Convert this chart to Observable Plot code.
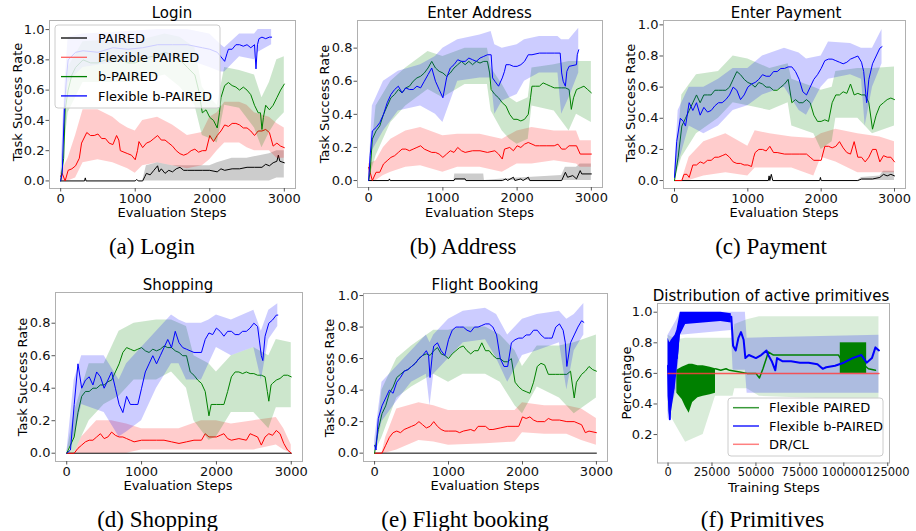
<!DOCTYPE html>
<html><head><meta charset="utf-8">
<script src="https://cdn.jsdelivr.net/npm/d3@7"></script>
<script src="https://cdn.jsdelivr.net/npm/@observablehq/plot@0.6"></script>
<style>
body{margin:0;background:#fff;}
#root{position:relative;width:916px;height:531px;overflow:hidden;background:#fff;}
#root > svg{position:absolute;}
</style></head><body><div id="root"></div>
<script>
// ---------------- DATA ----------------
const evalTicks = [0, 1000, 2000, 3000];
const rateTicks10 = [0, 0.2, 0.4, 0.6, 0.8, 1.0];
const rateTicks08 = [0, 0.2, 0.4, 0.6, 0.8];
const trainTicks = [0, 25000, 50000, 75000, 100000, 125000];
const primTicks = [0.2, 0.4, 0.6, 0.8, 1.0];

const methodNames = ["PAIRED", "Flexible PAIRED", "b-PAIRED", "Flexible b-PAIRED"];
const primNames = ["Flexible PAIRED", "Flexible b-PAIRED", "DR/CL"];
const titles = ["Login", "Enter Address", "Enter Payment", "Shopping", "Flight Booking", "Distribution of active primitives"];
const captions = ["(a) Login", "(b) Address", "(c) Payment", "(d) Shopping", "(e) Flight booking", "(f) Primitives"];

// (a) Login  — mean: [step, value], band: [step, lo, hi]
const loginPaired = [[0,0],[320,0],[330,0.02],[340,0],[1000,0],[1020,0.01],[1040,0],[1100,0],[1130,0.03],[1150,0.05],[1200,0.04],[1250,0.07],[1300,0.1],[1320,0.06],[1350,0.08],[1400,0.05],[1450,0.07],[1500,0.06],[1550,0.08],[1600,0.09],[1650,0.07],[1700,0.07],[1800,0.07],[1900,0.07],[2000,0.07],[2100,0.06],[2150,0.08],[2200,0.07],[2300,0.08],[2400,0.08],[2500,0.09],[2600,0.09],[2700,0.09],[2750,0.11],[2800,0.1],[2850,0.12],[2900,0.13],[2920,0.17],[2940,0.13],[3000,0.12]];
const loginPairedBand = [[1100,0,0],[1150,0,0.1],[1300,0,0.12],[1500,0,0.1],[2000,0,0.1],[2100,0,0.12],[2300,0,0.15],[2500,0,0.15],[2700,0,0.17],[2800,0,0.18],[2900,0.02,0.2],[3000,0.02,0.2]];
const loginFlexPaired = [[0,0.03],[20,0.05],[60,0],[100,0.07],[150,0.08],[200,0.1],[250,0.15],[280,0.25],[300,0.27],[350,0.32],[400,0.3],[450,0.3],[500,0.31],[550,0.28],[600,0.28],[650,0.25],[700,0.24],[750,0.3],[780,0.27],[800,0.2],[850,0.19],[900,0.18],[950,0.17],[1000,0.14],[1030,0.2],[1050,0.26],[1100,0.22],[1150,0.25],[1200,0.26],[1250,0.28],[1300,0.3],[1350,0.27],[1400,0.27],[1450,0.25],[1500,0.23],[1550,0.2],[1600,0.18],[1650,0.17],[1700,0.18],[1750,0.2],[1800,0.21],[1850,0.19],[1900,0.2],[1950,0.2],[2000,0.3],[2050,0.26],[2100,0.3],[2150,0.33],[2200,0.37],[2250,0.36],[2300,0.38],[2350,0.38],[2400,0.37],[2450,0.35],[2500,0.35],[2550,0.33],[2600,0.3],[2650,0.33],[2700,0.33],[2750,0.34],[2800,0.32],[2850,0.23],[2900,0.25],[2950,0.23],[3000,0.22]];
const loginFlexPairedBand = [[0,0,0.05],[100,0,0.15],[200,0.02,0.3],[300,0.12,0.47],[500,0.14,0.47],[700,0.12,0.42],[800,0.1,0.38],[900,0.08,0.35],[1000,0.05,0.33],[1100,0.1,0.4],[1300,0.12,0.42],[1500,0.1,0.37],[1700,0.08,0.3],[1900,0.1,0.32],[2000,0.14,0.42],[2100,0.2,0.45],[2200,0.25,0.52],[2400,0.25,0.52],[2500,0.22,0.5],[2600,0.2,0.45],[2800,0.2,0.42],[2900,0.15,0.38],[3000,0.15,0.35]];
const loginBPaired = [[0,0],[40,0.15],[60,0.47],[100,0.6],[150,0.7],[200,0.75],[300,0.8],[400,0.78],[500,0.78],[600,0.8],[700,0.8],[800,0.8],[900,0.78],[1000,0.78],[1100,0.8],[1200,0.82],[1300,0.83],[1400,0.85],[1500,0.83],[1600,0.8],[1700,0.75],[1800,0.7],[1850,0.6],[1900,0.45],[1950,0.47],[2000,0.42],[2050,0.4],[2100,0.35],[2130,0.45],[2150,0.55],[2200,0.63],[2250,0.65],[2300,0.63],[2350,0.62],[2400,0.6],[2450,0.62],[2500,0.6],[2550,0.57],[2600,0.5],[2650,0.45],[2680,0.45],[2700,0.34],[2720,0.42],[2750,0.5],[2800,0.47],[2850,0.5],[2900,0.55],[2950,0.6],[3000,0.64]];
const loginBPairedBand = [[0,0,0],[100,0.45,0.75],[300,0.65,0.92],[600,0.65,0.93],[1000,0.65,0.92],[1400,0.7,0.97],[1600,0.62,0.95],[1800,0.5,0.88],[1900,0.3,0.62],[2000,0.28,0.55],[2100,0.25,0.5],[2200,0.5,0.75],[2400,0.48,0.73],[2600,0.35,0.7],[2700,0.22,0.55],[2800,0.32,0.65],[2900,0.4,0.8],[3000,0.45,0.82]];
const loginFlexBPaired = [[0,0],[20,0.05],[50,0.48],[80,0.7],[100,0.8],[200,0.85],[300,0.86],[500,0.85],[700,0.88],[900,0.87],[1100,0.88],[1300,0.9],[1500,0.9],[1700,0.9],[1900,0.88],[2000,0.87],[2100,0.85],[2150,0.82],[2200,0.79],[2230,0.84],[2250,0.87],[2300,0.87],[2350,0.9],[2400,0.9],[2450,0.89],[2500,0.9],[2550,0.88],[2600,0.9],[2620,0.74],[2640,0.9],[2660,0.94],[2700,0.95],[2750,0.94],[2800,0.95],[2830,0.95]];
const loginFlexBPairedBand = [[0,0,0],[50,0.35,0.6],[100,0.65,0.95],[300,0.75,0.97],[700,0.78,0.98],[1300,0.8,1.0],[1700,0.8,1.0],[2000,0.75,0.97],[2150,0.72,0.9],[2200,0.72,0.88],[2400,0.82,0.97],[2600,0.8,0.97],[2650,0.85,1.0],[2830,0.9,1.0]];

// (b) Enter Address
const addrPaired = [[0,0],[270,0],[280,0.01],[290,0],[1150,0],[1160,0.01],[1300,0.01],[1310,0],[1800,0],[1850,0.01],[1870,0],[1950,0.02],[1970,0],[2050,0.01],[2080,0],[2150,0.02],[2170,0],[2600,0],[2650,0.05],[2680,0.02],[2750,0.03],[2800,0.01],[2850,0.06],[2870,0.04],[3000,0.04]];
const addrPairedBand = [[1150,0,0],[1160,0,0.04],[1550,0,0.04],[1560,0,0],[1800,0,0.01],[2200,0,0.02],[2600,0,0.03],[2650,0,0.08],[2800,0,0.08],[2850,0,0.1],[3000,0,0.1]];
const addrFlexPaired = [[0,0.08],[20,0.05],[50,0],[100,0.05],[150,0.05],[200,0.1],[250,0.12],[300,0.14],[350,0.15],[400,0.17],[450,0.19],[500,0.19],[550,0.18],[600,0.19],[650,0.2],[700,0.21],[750,0.19],[800,0.18],[850,0.17],[900,0.17],[950,0.16],[1000,0.14],[1050,0.16],[1100,0.18],[1150,0.17],[1200,0.2],[1250,0.18],[1300,0.17],[1400,0.18],[1500,0.18],[1600,0.17],[1700,0.18],[1750,0.16],[1800,0.13],[1830,0.19],[1900,0.2],[1950,0.18],[2000,0.21],[2050,0.2],[2100,0.22],[2150,0.23],[2200,0.22],[2250,0.21],[2300,0.21],[2400,0.21],[2500,0.21],[2550,0.22],[2600,0.19],[2650,0.19],[2700,0.21],[2800,0.21],[2850,0.16],[3000,0.16]];
const addrFlexPairedBand = [[0,0,0.1],[100,0,0.12],[200,0.03,0.2],[300,0.05,0.25],[500,0.08,0.3],[700,0.09,0.32],[1000,0.05,0.27],[1200,0.08,0.28],[1500,0.08,0.28],[1800,0.05,0.25],[2000,0.1,0.3],[2200,0.1,0.32],[2500,0.12,0.3],[2800,0.1,0.3],[2850,0.08,0.24],[3000,0.08,0.24]];
const addrBPaired = [[0,0],[20,0.05],[50,0.25],[100,0.3],[150,0.33],[200,0.4],[250,0.45],[300,0.5],[350,0.52],[400,0.55],[450,0.53],[500,0.56],[550,0.57],[600,0.6],[650,0.62],[700,0.63],[750,0.65],[800,0.68],[850,0.72],[900,0.68],[950,0.66],[1000,0.65],[1050,0.63],[1100,0.65],[1150,0.68],[1200,0.7],[1250,0.72],[1300,0.7],[1350,0.72],[1400,0.7],[1450,0.72],[1500,0.71],[1550,0.72],[1600,0.72],[1630,0.65],[1650,0.55],[1700,0.52],[1750,0.5],[1800,0.47],[1850,0.45],[1900,0.4],[1950,0.37],[2000,0.37],[2050,0.36],[2100,0.37],[2150,0.4],[2180,0.5],[2200,0.57],[2250,0.57],[2300,0.57],[2350,0.59],[2400,0.58],[2450,0.57],[2500,0.56],[2550,0.56],[2600,0.56],[2650,0.56],[2700,0.55],[2730,0.43],[2760,0.5],[2800,0.55],[2850,0.56],[2900,0.57],[2950,0.55],[3000,0.53]];
const addrBPairedBand = [[0,0,0],[100,0.15,0.45],[300,0.35,0.6],[500,0.45,0.68],[800,0.55,0.78],[1000,0.5,0.75],[1300,0.58,0.8],[1600,0.58,0.8],[1650,0.42,0.68],[1800,0.3,0.58],[1900,0.25,0.5],[2000,0.22,0.47],[2150,0.25,0.5],[2200,0.45,0.68],[2500,0.42,0.7],[2700,0.3,0.72],[2800,0.4,0.72],[3000,0.35,0.72]];
const addrFlexBPaired = [[0,0],[20,0.15],[50,0.3],[100,0.32],[150,0.35],[200,0.4],[250,0.47],[300,0.52],[350,0.55],[400,0.57],[450,0.53],[500,0.56],[550,0.55],[600,0.55],[650,0.57],[700,0.56],[750,0.6],[800,0.64],[850,0.68],[900,0.6],[950,0.55],[1000,0.5],[1050,0.62],[1100,0.68],[1150,0.7],[1200,0.73],[1250,0.72],[1300,0.72],[1350,0.74],[1400,0.73],[1450,0.72],[1500,0.74],[1550,0.75],[1600,0.76],[1650,0.76],[1670,0.62],[1700,0.6],[1750,0.57],[1800,0.62],[1830,0.66],[1850,0.7],[1900,0.7],[1950,0.69],[2000,0.69],[2050,0.7],[2100,0.72],[2150,0.76],[2200,0.76],[2300,0.77],[2400,0.77],[2500,0.77],[2580,0.77],[2600,0.65],[2620,0.6],[2650,0.57],[2670,0.66],[2700,0.69],[2800,0.7],[2810,0.76],[2830,0.79]];
const addrFlexBPairedBand = [[0,0,0],[50,0.18,0.45],[200,0.3,0.6],[400,0.42,0.66],[700,0.45,0.7],[900,0.4,0.75],[1000,0.35,0.8],[1200,0.6,0.85],[1500,0.62,0.88],[1650,0.62,0.9],[1700,0.4,0.82],[1800,0.48,0.8],[2000,0.52,0.82],[2100,0.6,0.85],[2300,0.65,0.87],[2550,0.65,0.87],[2600,0.4,0.85],[2700,0.5,0.85],[2830,0.65,0.92]];

// (c) Enter Payment
const payPaired = [[0,0],[1280,0],[1290,0.03],[1300,0],[1320,0.04],[1340,0],[1980,0],[1990,0.02],[2000,0],[2500,0],[2550,0.01],[2700,0.01],[2800,0.02],[2850,0.04],[2900,0.03],[2950,0.04],[3000,0.03]];
const payPairedBand = [[2500,0,0],[2550,0,0.02],[2800,0,0.03],[2850,0,0.06],[3000,0,0.06]];
const payFlexPaired = [[0,0],[100,0],[130,0.04],[170,0.04],[200,0.02],[250,0.1],[300,0.1],[350,0.12],[400,0.11],[450,0.13],[500,0.13],[550,0.15],[600,0.15],[650,0.16],[700,0.17],[750,0.15],[800,0.12],[850,0.11],[900,0.11],[950,0.1],[1000,0.1],[1050,0.09],[1080,0.15],[1100,0.18],[1150,0.2],[1200,0.2],[1250,0.19],[1300,0.22],[1350,0.18],[1400,0.18],[1500,0.17],[1600,0.17],[1700,0.17],[1800,0.17],[1850,0.15],[1900,0.13],[2000,0.13],[2050,0.22],[2100,0.22],[2150,0.21],[2200,0.22],[2250,0.25],[2300,0.21],[2350,0.18],[2400,0.17],[2450,0.25],[2500,0.15],[2550,0.15],[2600,0.12],[2650,0.15],[2700,0.2],[2750,0.2],[2800,0.12],[2850,0.16],[2900,0.15],[2950,0.15],[3000,0.12]];
const payFlexPairedBand = [[100,0,0],[200,0,0.15],[400,0.03,0.25],[700,0.05,0.3],[1000,0.03,0.22],[1100,0.08,0.32],[1300,0.08,0.3],[1600,0.08,0.28],[1900,0.03,0.27],[2000,0.15,0.3],[2200,0.12,0.33],[2500,0.05,0.3],[2800,0.05,0.28],[3000,0.05,0.25]];
const payBPaired = [[0,0],[50,0.15],[100,0.35],[150,0.4],[200,0.45],[250,0.5],[300,0.55],[350,0.5],[400,0.55],[450,0.55],[500,0.55],[550,0.58],[600,0.58],[650,0.58],[700,0.58],[750,0.6],[800,0.65],[850,0.7],[900,0.68],[950,0.65],[1000,0.63],[1050,0.62],[1100,0.6],[1150,0.63],[1200,0.62],[1250,0.6],[1300,0.6],[1350,0.58],[1400,0.58],[1450,0.6],[1500,0.62],[1550,0.65],[1600,0.5],[1650,0.52],[1700,0.5],[1750,0.5],[1800,0.52],[1850,0.5],[1900,0.42],[1950,0.38],[2000,0.38],[2050,0.39],[2100,0.38],[2150,0.5],[2200,0.55],[2250,0.55],[2300,0.57],[2350,0.56],[2400,0.62],[2450,0.55],[2500,0.56],[2550,0.55],[2600,0.55],[2650,0.5],[2700,0.33],[2750,0.42],[2800,0.48],[2850,0.5],[2900,0.52],[2950,0.53],[3000,0.52]];
const payBPairedBand = [[0,0,0],[100,0.15,0.55],[300,0.3,0.68],[600,0.4,0.7],[800,0.5,0.8],[1000,0.48,0.78],[1300,0.45,0.72],[1550,0.5,0.75],[1600,0.35,0.65],[1900,0.3,0.6],[2000,0.2,0.58],[2150,0.25,0.6],[2200,0.4,0.7],[2500,0.4,0.72],[2700,0.3,0.72],[3000,0.35,0.73]];
const payFlexBPaired = [[0,0.02],[30,0.25],[80,0.4],[120,0.38],[150,0.35],[200,0.5],[250,0.45],[300,0.5],[350,0.42],[400,0.47],[450,0.44],[500,0.45],[550,0.48],[600,0.5],[650,0.5],[700,0.52],[750,0.55],[800,0.6],[850,0.58],[900,0.52],[950,0.55],[1000,0.6],[1050,0.62],[1100,0.63],[1150,0.65],[1200,0.68],[1250,0.67],[1300,0.67],[1350,0.7],[1400,0.7],[1450,0.72],[1500,0.72],[1550,0.73],[1600,0.73],[1650,0.7],[1700,0.65],[1750,0.57],[1800,0.55],[1850,0.6],[1900,0.65],[1950,0.68],[2000,0.72],[2050,0.77],[2100,0.78],[2150,0.78],[2200,0.77],[2250,0.76],[2300,0.75],[2350,0.76],[2400,0.78],[2450,0.79],[2500,0.8],[2550,0.76],[2580,0.7],[2620,0.5],[2650,0.65],[2700,0.75],[2750,0.8],[2800,0.85],[2830,0.86]];
const payFlexBPairedBand = [[0,0,0.05],[50,0.1,0.45],[200,0.35,0.6],[400,0.3,0.6],[600,0.35,0.65],[800,0.45,0.72],[1000,0.48,0.72],[1200,0.55,0.8],[1500,0.6,0.85],[1700,0.45,0.82],[1800,0.42,0.78],[2000,0.6,0.8],[2100,0.65,0.89],[2400,0.68,0.88],[2550,0.65,0.85],[2600,0.35,0.85],[2700,0.6,0.85],[2830,0.75,0.97]];

// (d) Shopping
const shopPaired = [[0,0],[3000,0]];
const shopFlexPaired = [[0,0],[100,0],[150,0.03],[200,0.05],[250,0.07],[300,0.08],[350,0.08],[400,0.1],[450,0.12],[500,0.09],[550,0.1],[600,0.13],[650,0.11],[700,0.1],[750,0.1],[800,0.09],[850,0.08],[900,0.07],[1000,0.08],[1100,0.08],[1200,0.08],[1300,0.08],[1400,0.07],[1500,0.06],[1600,0.07],[1700,0.08],[1800,0.08],[1850,0.12],[1900,0.1],[2000,0.1],[2050,0.11],[2100,0.12],[2150,0.09],[2200,0.08],[2300,0.09],[2400,0.08],[2450,0.12],[2500,0.11],[2550,0.1],[2600,0.05],[2650,0.1],[2700,0.12],[2750,0.11],[2800,0.14],[2850,0.12],[2900,0.06],[2950,0.02],[3000,0]];
const shopFlexPairedBand = [[100,0,0],[200,0,0.1],[400,0,0.2],[600,0,0.2],[800,0,0.18],[1000,0.02,0.15],[1500,0.02,0.15],[1800,0.02,0.2],[2000,0.02,0.2],[2200,0.02,0.18],[2500,0.02,0.2],[2800,0.05,0.22],[2900,0.02,0.15],[3000,0,0.05]];
const shopBPaired = [[0,0],[100,0.1],[150,0.25],[200,0.35],[250,0.38],[300,0.38],[350,0.4],[400,0.4],[450,0.42],[500,0.42],[550,0.44],[600,0.45],[650,0.5],[700,0.55],[750,0.62],[800,0.65],[850,0.64],[900,0.63],[950,0.64],[1000,0.65],[1050,0.63],[1100,0.62],[1150,0.64],[1200,0.63],[1250,0.64],[1300,0.66],[1350,0.65],[1400,0.65],[1450,0.63],[1500,0.62],[1550,0.6],[1600,0.6],[1650,0.5],[1700,0.48],[1750,0.45],[1800,0.43],[1850,0.38],[1900,0.23],[1930,0.3],[2000,0.3],[2050,0.3],[2100,0.3],[2150,0.38],[2200,0.47],[2250,0.5],[2300,0.5],[2350,0.49],[2400,0.5],[2450,0.49],[2500,0.49],[2550,0.48],[2600,0.48],[2650,0.47],[2680,0.38],[2700,0.32],[2730,0.42],[2750,0.43],[2800,0.45],[2850,0.46],[2900,0.48],[2950,0.48],[3000,0.47]];
const shopBPairedBand = [[0,0,0],[100,0,0.25],[300,0.2,0.55],[500,0.3,0.55],[700,0.35,0.75],[900,0.45,0.8],[1200,0.45,0.82],[1400,0.5,0.82],[1600,0.4,0.78],[1700,0.2,0.6],[1900,0.08,0.55],[2000,0.1,0.5],[2200,0.25,0.6],[2500,0.25,0.65],[2700,0.15,0.6],[2800,0.28,0.7],[3000,0.28,0.68]];
const shopFlexBPaired = [[0,0],[50,0.02],[100,0.3],[150,0.55],[200,0.4],[250,0.45],[300,0.47],[350,0.42],[400,0.5],[450,0.47],[500,0.4],[550,0.45],[600,0.5],[650,0.4],[700,0.3],[750,0.25],[800,0.35],[850,0.3],[900,0.3],[950,0.3],[1000,0.4],[1050,0.5],[1100,0.55],[1150,0.6],[1200,0.55],[1250,0.6],[1300,0.65],[1350,0.7],[1400,0.65],[1450,0.75],[1500,0.68],[1550,0.65],[1600,0.64],[1700,0.62],[1800,0.62],[1850,0.7],[1900,0.74],[1950,0.73],[2000,0.77],[2050,0.75],[2100,0.72],[2150,0.75],[2200,0.75],[2250,0.73],[2300,0.73],[2350,0.75],[2400,0.75],[2450,0.77],[2500,0.8],[2550,0.78],[2600,0.6],[2620,0.57],[2650,0.72],[2700,0.8],[2750,0.82],[2800,0.85],[2820,0.85]];
const shopFlexBPairedBand = [[0,0,0],[100,0.1,0.45],[200,0.3,0.6],[500,0.25,0.6],[700,0.1,0.45],[800,0.13,0.55],[1000,0.2,0.65],[1200,0.4,0.75],[1400,0.55,0.85],[1500,0.55,0.82],[1600,0.45,0.8],[1800,0.45,0.8],[1900,0.55,0.82],[2000,0.65,0.85],[2200,0.6,0.82],[2500,0.65,0.88],[2600,0.45,0.75],[2700,0.7,0.88],[2820,0.78,0.92]];

// (e) Flight Booking
const flightPaired = [[0,0],[3000,0]];
const flightFlexPaired = [[0,0],[100,0],[150,0.05],[200,0.1],[250,0.13],[300,0.14],[350,0.13],[400,0.15],[450,0.16],[500,0.17],[550,0.18],[600,0.2],[650,0.18],[700,0.16],[750,0.17],[800,0.2],[850,0.17],[900,0.15],[950,0.14],[1000,0.14],[1100,0.14],[1150,0.13],[1200,0.14],[1300,0.15],[1350,0.14],[1400,0.17],[1500,0.17],[1550,0.15],[1600,0.15],[1700,0.16],[1800,0.17],[1900,0.17],[1950,0.17],[2000,0.23],[2050,0.22],[2100,0.23],[2150,0.21],[2200,0.2],[2300,0.2],[2350,0.22],[2400,0.21],[2500,0.21],[2600,0.2],[2700,0.2],[2750,0.19],[2800,0.18],[2850,0.13],[2900,0.14],[3000,0.13]];
const flightFlexPairedBand = [[100,0,0],[150,0,0.1],[300,0.02,0.28],[600,0.08,0.32],[800,0.07,0.3],[1000,0.05,0.27],[1500,0.06,0.27],[1900,0.07,0.27],[2000,0.13,0.32],[2300,0.12,0.3],[2600,0.12,0.3],[2800,0.08,0.28],[3000,0.05,0.22]];
const flightBPaired = [[0,0],[50,0.15],[100,0.25],[150,0.3],[200,0.38],[250,0.42],[300,0.48],[350,0.5],[400,0.52],[450,0.53],[500,0.55],[550,0.57],[600,0.6],[650,0.62],[700,0.63],[750,0.62],[800,0.65],[850,0.67],[900,0.63],[950,0.62],[1000,0.6],[1050,0.63],[1100,0.65],[1150,0.67],[1200,0.68],[1250,0.65],[1300,0.63],[1350,0.65],[1400,0.65],[1450,0.7],[1500,0.65],[1550,0.65],[1600,0.62],[1650,0.6],[1700,0.6],[1750,0.58],[1800,0.58],[1850,0.6],[1900,0.45],[1950,0.42],[2000,0.4],[2050,0.39],[2100,0.38],[2150,0.45],[2200,0.55],[2250,0.57],[2300,0.56],[2350,0.5],[2400,0.5],[2450,0.5],[2500,0.5],[2550,0.5],[2600,0.5],[2650,0.52],[2700,0.35],[2730,0.45],[2800,0.5],[2850,0.52],[2900,0.55],[2950,0.53],[3000,0.52]];
const flightBPairedBand = [[0,0,0],[100,0.1,0.4],[300,0.35,0.6],[500,0.42,0.68],[800,0.5,0.78],[1000,0.45,0.78],[1200,0.5,0.8],[1500,0.5,0.8],[1700,0.45,0.75],[1900,0.3,0.65],[2000,0.25,0.55],[2200,0.42,0.68],[2500,0.35,0.68],[2700,0.25,0.7],[3000,0.35,0.75]];
const flightFlexBPaired = [[0,0.05],[20,0.02],[50,0.22],[100,0.3],[150,0.35],[200,0.4],[250,0.38],[300,0.45],[350,0.48],[400,0.52],[450,0.53],[500,0.55],[550,0.57],[600,0.6],[650,0.62],[700,0.65],[730,0.62],[750,0.48],[780,0.62],[800,0.68],[850,0.7],[900,0.65],[950,0.62],[1000,0.72],[1050,0.78],[1100,0.8],[1150,0.8],[1200,0.8],[1250,0.78],[1300,0.77],[1350,0.8],[1400,0.8],[1450,0.81],[1500,0.82],[1550,0.82],[1600,0.8],[1650,0.75],[1700,0.6],[1750,0.55],[1800,0.55],[1850,0.7],[1900,0.72],[1950,0.73],[2000,0.73],[2050,0.75],[2100,0.75],[2150,0.78],[2200,0.78],[2250,0.75],[2300,0.73],[2350,0.73],[2400,0.73],[2450,0.8],[2500,0.82],[2550,0.78],[2580,0.7],[2600,0.55],[2650,0.7],[2700,0.75],[2750,0.8],[2800,0.84],[2830,0.83]];
const flightFlexBPairedBand = [[0,0,0.08],[100,0.2,0.45],[300,0.33,0.55],[500,0.45,0.65],[700,0.5,0.75],[750,0.3,0.7],[800,0.5,0.75],[1000,0.6,0.85],[1200,0.7,0.9],[1500,0.72,0.92],[1650,0.6,0.88],[1800,0.45,0.75],[2000,0.62,0.85],[2200,0.65,0.88],[2500,0.7,0.9],[2600,0.4,0.85],[2700,0.65,0.88],[2830,0.75,0.95]];

// (f) Primitives
const primFlexPaired = [[27000,0.63],[30000,0.62],[33000,0.63],[35000,0.62],[40000,0.61],[45000,0.6],[50000,0.6],[52000,0.57],[54000,0.63],[56000,0.7],[57000,0.74],[60000,0.72],[65000,0.72],[70000,0.72],[80000,0.72],[90000,0.72],[97000,0.72],[98000,0.7],[112000,0.65],[114000,0.63],[118000,0.62]];
const primFlexPairedNoise = [[5000,0.47,0.62],[8000,0.43,0.64],[10000,0.38,0.65],[12000,0.34,0.66],[14000,0.41,0.66],[17000,0.44,0.65],[20000,0.45,0.65],[24000,0.46,0.64],[27000,0.47,0.63]];
const primFlexPairedBlock = [[98000,0.6,0.8],[113000,0.6,0.8]];
const primFlexPairedBand = [[0,0.35,0.85],[5000,0.25,0.82],[10000,0.15,0.83],[20000,0.2,0.83],[27000,0.45,0.83],[37000,0.45,0.83],[38000,0.5,0.92],[45000,0.5,0.95],[52000,0.45,0.97],[100000,0.43,0.97],[120000,0.43,0.97]];
const primFlexBPaired = [[0,0.65],[1000,0.3],[2000,0.75],[3000,0.5],[4000,0.8],[5000,0.7],[6000,0.85],[7500,0.95],[9000,0.97],[36000,0.97],[37000,0.78],[38500,0.75],[40000,0.83],[41500,0.87],[43000,0.82],[44000,0.7],[46000,0.72],[50000,0.7],[53000,0.72],[56000,0.75],[57000,0.72],[59000,0.68],[61000,0.62],[62000,0.7],[65000,0.68],[70000,0.68],[75000,0.67],[80000,0.67],[85000,0.66],[88000,0.63],[90000,0.64],[95000,0.65],[100000,0.67],[105000,0.7],[110000,0.72],[113000,0.67],[116000,0.7],[118000,0.77],[120000,0.75]];
const primFlexBPairedNoise = [[0,0.45,0.83],[1000,0.3,0.8],[2000,0.35,0.82],[4000,0.5,0.85],[5000,0.6,0.88],[7000,0.85,1.0],[10000,0.92,1.0],[20000,0.93,1.0],[30000,0.94,1.0],[36000,0.93,0.99]];
const primFlexBPairedBand = [[0,0.3,0.85],[5000,0.5,0.95],[7000,0.85,1.0],[36000,0.88,1.0],[37000,0.62,1.0],[44000,0.62,1.0],[45000,0.47,0.83],[120000,0.47,0.85]];
const primDRCL = [[0,0.6],[120000,0.6]];

// ---------------- DRAWING ----------------
const COL = {black:"#000000", red:"#ff0000", green:"#008000", blue:"#0000ff"};
const root = document.getElementById("root");

function seriesMarks(mean, band, color, width=1) {
  const m = [];
  if (band) m.push(Plot.areaY(band, {x: d => d[0], y1: d => d[1], y2: d => d[2], fill: color, fillOpacity: 0.2}));
  m.push(Plot.lineY(mean, {x: d => d[0], y: d => d[1], stroke: color, strokeWidth: width}));
  return m;
}

function axes(xTicks, yTicks, yFmt, xFont=13, xPad=2) {
  return [
    Plot.frame({stroke: "#b0b0b0", strokeWidth: 1}),
    Plot.axisX({ticks: xTicks, tickFormat: d => String(d), tickSize: 3.5, tickPadding: xPad, fontSize: xFont, label: null, stroke: "#555", fill: "#111"}),
    Plot.axisY({ticks: yTicks, tickFormat: yFmt, tickSize: 3.5, tickPadding: 1.5, fontSize: 13, label: null, stroke: "#555", fill: "#111"})
  ];
}

function place(svg, left, top) {
  svg.style.left = left + "px";
  svg.style.top = top + "px";
  svg.style.position = "absolute";
  root.appendChild(svg);
}

const f1 = d3.format(".1f");
function evalPanel(g, yDomain, yTicks, series) {
  const marks = [];
  for (const s of series) marks.push(...seriesMarks(s[0], s[1], s[2]));
  marks.push(...axes(evalTicks, yTicks, f1));
  const svg = Plot.plot({
    width: g.w, height: g.h, marginLeft: g.ml, marginRight: g.mr, marginTop: g.mt, marginBottom: g.mb,
    style: {background: "transparent", overflow: "visible", fontFamily: "DejaVu Sans", fontSize: "13px"},
    x: {domain: [-150, 3150]}, y: {domain: yDomain},
    marks
  });
  place(svg, g.left, g.top);
}

evalPanel({left:0, top:0, w:305, h:230, ml:49, mr:10, mt:20, mb:42}, [-0.05, 1.06], rateTicks10, [
  [loginPaired, loginPairedBand, COL.black], [loginFlexPaired, loginFlexPairedBand, COL.red],
  [loginBPaired, loginBPairedBand, COL.green], [loginFlexBPaired, loginFlexBPairedBand, COL.blue]]);
evalPanel({left:305, top:0, w:305, h:230, ml:52, mr:8, mt:20, mb:43}, [-0.042, 0.967], rateTicks08, [
  [addrPaired, addrPairedBand, COL.black], [addrFlexPaired, addrFlexPairedBand, COL.red],
  [addrBPaired, addrBPairedBand, COL.green], [addrFlexBPaired, addrFlexBPairedBand, COL.blue]]);
evalPanel({left:610, top:0, w:306, h:230, ml:53, mr:11, mt:20, mb:42}, [-0.051, 1.028], rateTicks10, [
  [payPaired, payPairedBand, COL.black], [payFlexPaired, payFlexPairedBand, COL.red],
  [payBPaired, payBPairedBand, COL.green], [payFlexBPaired, payFlexBPairedBand, COL.blue]]);
evalPanel({left:0, top:270, w:310, h:230, ml:55, mr:8, mt:22, mb:39}, [-0.051, 0.989], rateTicks08, [
  [shopPaired, null, COL.black], [shopFlexPaired, shopFlexPairedBand, COL.red],
  [shopBPaired, shopBPairedBand, COL.green], [shopFlexBPaired, shopFlexBPairedBand, COL.blue]]);
evalPanel({left:305, top:270, w:310, h:230, ml:58, mr:8, mt:23, mb:39}, [-0.053, 1.013], rateTicks10, [
  [flightPaired, null, COL.black], [flightFlexPaired, flightFlexPairedBand, COL.red],
  [flightBPaired, flightBPairedBand, COL.green], [flightFlexBPaired, flightFlexBPairedBand, COL.blue]]);

// (f)
{
  const area = (data, color, op) => Plot.areaY(data, {x: d => d[0], y1: d => d[1], y2: d => d[2], fill: color, fillOpacity: op});
  const line = (data, color, w, op=1) => Plot.lineY(data, {x: d => d[0], y: d => d[1], stroke: color, strokeWidth: w, strokeOpacity: op});
  const svg = Plot.plot({
    width: 306, height: 230, marginLeft: 47, marginRight: 27, marginTop: 33, marginBottom: 37.5,
    style: {background: "transparent", overflow: "visible", fontFamily: "DejaVu Sans", fontSize: "13px"},
    x: {domain: [-6000, 126000]}, y: {domain: [0.014, 1.057]},
    marks: [
      area(primFlexPairedBand, COL.green, 0.15),
      area(primFlexBPairedBand, COL.blue, 0.2),
      area(primFlexPairedNoise, COL.green, 1),
      area(primFlexPairedBlock, COL.green, 1),
      line(primFlexPaired, COL.green, 1.5),
      area(primFlexBPairedNoise, COL.blue, 1),
      line(primFlexBPaired, COL.blue, 2),
      line(primDRCL, "#ff4040", 1.5, 0.85),
      ...axes(trainTicks, primTicks, f1, 11.5, 1)
    ]
  });
  place(svg, 610, 270);
}

// ---------------- OVERLAY: titles, axis labels, legends, captions ----------------
const NS = "http://www.w3.org/2000/svg";
const ov = document.createElementNS(NS, "svg");
ov.setAttribute("width", 916); ov.setAttribute("height", 531);
ov.style.position = "absolute"; ov.style.left = "0px"; ov.style.top = "0px";
root.appendChild(ov);
function txt(s, x, y, size, opts={}) {
  const t = document.createElementNS(NS, "text");
  t.textContent = s;
  t.setAttribute("x", 0); t.setAttribute("y", 0);
  t.setAttribute("transform", `translate(${x},${y})` + (opts.rot ? ` rotate(${opts.rot})` : ""));
  t.setAttribute("font-family", opts.serif ? "Liberation Serif, serif" : "DejaVu Sans, sans-serif");
  t.setAttribute("font-size", size);
  t.setAttribute("text-anchor", opts.anchor || "middle");
  t.setAttribute("fill", "#000");
  ov.appendChild(t);
}
function el(tag, attrs) {
  const e = document.createElementNS(NS, tag);
  for (const k in attrs) e.setAttribute(k, attrs[k]);
  ov.appendChild(e);
}
// titles
const titlePos = [[172,17.5],[479.5,17.5],[786,17.5],[178,290],[485,290],[771,301]];
titles.forEach((t,i) => txt(t, titlePos[i][0], titlePos[i][1], 15));
// x labels
const xlabPos = [[172,216.5],[479.5,216.5],[784,216.5],[178,489.5],[485,489.5]];
xlabPos.forEach(p => txt("Evaluation Steps", p[0], p[1], 13));
txt("Training Steps", 774, 491.5, 13);
// y labels
const ylabPos = [[21.5,102],[329,104],[635,103],[26.5,377],[334,378]];
ylabPos.forEach(p => txt("Task Success Rate", p[0], p[1], 13, {rot: -90}));
txt("Percentage", 630.5, 383, 13, {rot: -90});
// captions
const capPos = [[152,254],[463,254],[771,254],[157.5,527],[465,527],[762.5,527]];
captions.forEach((c,i) => txt(c, capPos[i][0], capPos[i][1], 23, {serif: true}));
// legend (a)
el("rect", {x:55, y:25, width:165, height:83, rx:3, fill:"#fff", "fill-opacity":0.8, stroke:"#cccccc", "stroke-width":1});
const legA = ["#000000","#ff6060","#008000","#0000ff"];
methodNames.forEach((n,i) => {
  const y = 38 + i*19.3;
  el("line", {x1:61, x2:87, y1:y, y2:y, stroke:legA[i], "stroke-width":1.3});
  txt(n, 98, y+4.6, 13, {anchor:"start"});
});
// legend (f)
el("rect", {x:728, y:398, width:155, height:58, rx:3, fill:"#fff", "fill-opacity":0.8, stroke:"#cccccc", "stroke-width":1});
const legF = ["#3a9a3a","#2020ff","#ff8080"];
primNames.forEach((n,i) => {
  const y = 407.7 + i*18.3;
  el("line", {x1:733, x2:759, y1:y, y2:y, stroke:legF[i], "stroke-width":1.5});
  txt(n, 769, y+4.6, 13, {anchor:"start"});
});
</script></body></html>
